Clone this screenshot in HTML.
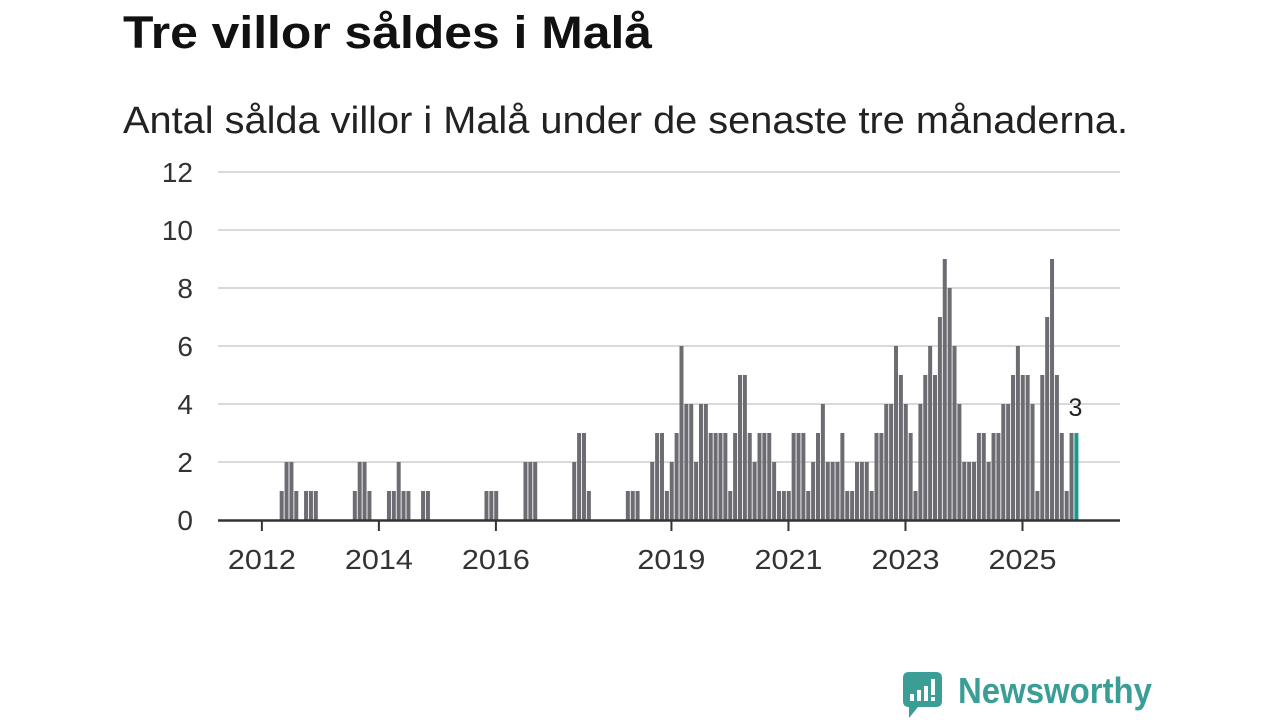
<!DOCTYPE html>
<html><head><meta charset="utf-8"><style>
html,body{margin:0;padding:0;background:#fff;}
svg{display:block;font-family:"Liberation Sans",sans-serif;}
</style></head><body>
<svg id="chart" width="1280" height="720" viewBox="0 0 1280 720">
<text x="123" y="48" font-size="45" font-weight="bold" fill="#111" textLength="529" lengthAdjust="spacingAndGlyphs">Tre villor såldes i Malå</text>
<text x="123" y="133" font-size="38" fill="#222" textLength="1005" lengthAdjust="spacingAndGlyphs">Antal sålda villor i Malå under de senaste tre månaderna.</text>
<g id="grid"></g>
<g id="bars"></g>
<g id="axes"></g>
<g>
<path d="M909 672 H936 Q942 672 942 678 V701 Q942 707 936 707 H918 L909 718 V707 Q903 707 903 701 V678 Q903 672 909 672 Z" fill="#3a9e96"/>
<rect x="910" y="694" width="4" height="7" fill="#fff"/>
<rect x="917" y="690" width="4" height="11" fill="#fff"/>
<rect x="924" y="686" width="4" height="15" fill="#fff"/>
<rect x="931" y="679" width="4" height="16" fill="#fff"/>
<rect x="931" y="697" width="4" height="4" fill="#fff"/>
<text x="958" y="703" font-size="36" font-weight="bold" fill="#3a9e96" textLength="194" lengthAdjust="spacingAndGlyphs">Newsworthy</text>
</g>
</svg>
<script>
// month index k relative to Jan 2012
const monthIndex = [3,4,5,6,8,9,10,18,19,20,21,25,26,27,28,29,32,33,45,46,47,53,54,55,63,64,65,66,74,75,76];
const earlyValues = [1,2,2,1,1,1,1,1,2,2,1,1,1,2,1,1,1,1,1,1,1,2,2,2,2,3,3,1,1,1,1];
const laterStart = 79;
const laterValues = [2,3,3,1,2,3,6,4,4,2,4,4,3,3,3,3,1,3,5,5,3,2,3,3,3,2,1,1,1,3,3,3,1,2,3,4,2,2,2,3,1,1,2,2,2,1,
  3,3,4,4,6,5,4,3,1,4,5,6,5,7,9,8,6,4,2,2,2,3,3,2,3,3,4,4,5,6,5,5,4,1,5,7,9,5,3,1,3,3];
const yTicks = [0,2,4,6,8,10,12];
const xTickYears = [2012,2014,2016,2019,2021,2023,2025];

const NS='http://www.w3.org/2000/svg';
const x0=218,x1=1120,kMin=-9,kMax=176;
const xs=k=>x0+(k-kMin)*(x1-x0)/(kMax-kMin);
const ys=v=>520-v*29;
function mk(tag,attrs,parent){const e=document.createElementNS(NS,tag);for(const a in attrs)e.setAttribute(a,attrs[a]);parent.appendChild(e);return e;}
const grid=document.getElementById('grid'),bars=document.getElementById('bars'),axes=document.getElementById('axes');
yTicks.forEach(v=>{
  if(v>0){const l=mk('line',{x1:x0,x2:x1,y1:ys(v),y2:ys(v),stroke:'#d9d9d9','stroke-width':2},grid);
  
  }
  const t=mk('text',{x:193,y:ys(v)+10,'text-anchor':'end','font-size':28,fill:'#333'},axes);
  t.textContent=v;
  
  
});
const data=[];
monthIndex.forEach((k,i)=>data.push([k,earlyValues[i]]));
laterValues.forEach((v,i)=>data.push([laterStart+i,v]));
const lastK=data[data.length-1][0];
data.forEach(([k,v])=>{
  const isLast=k===lastK;
  const r=mk('rect',{x:xs(k+0.65),y:ys(v),width:4,height:v*29,fill:isLast?'#1a9a8f':'#6d6c72'},bars);
  
  
  if(isLast){const t=mk('text',{x:xs(k+0.65)+1,y:ys(v)-17,'text-anchor':'middle','font-size':25,fill:'#222'},axes);
    t.textContent=v;
    
    }
});
const base=mk('line',{x1:x0,x2:x1,y1:520.5,y2:520.5,stroke:'#333','stroke-width':2.5},axes);


xTickYears.forEach(y=>{
  const k=(y-2012)*12;
  const tk=mk('line',{x1:xs(k),x2:xs(k),y1:521,y2:531,stroke:'#333','stroke-width':2},axes);
  
  
  const t=mk('text',{x:xs(k),y:569,'text-anchor':'middle','font-size':28,fill:'#333',textLength:68,lengthAdjust:'spacingAndGlyphs'},axes);
  t.textContent=y;
  
  
});
</script>
</body></html>
